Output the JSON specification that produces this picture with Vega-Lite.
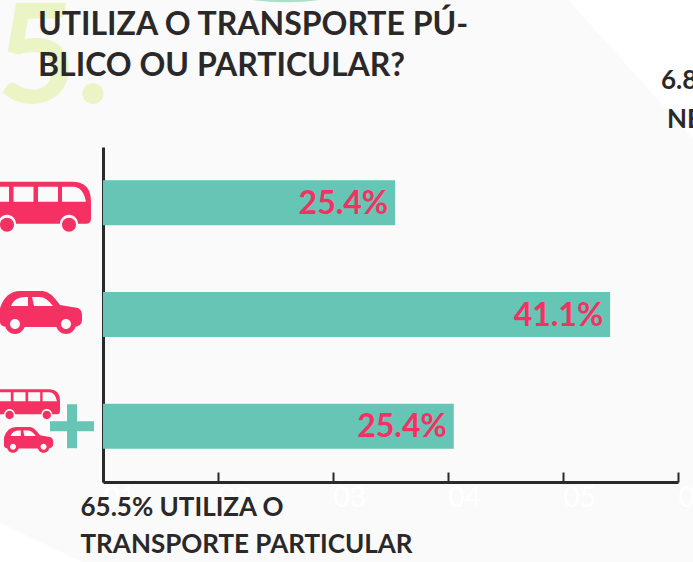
{
"$schema":"https://vega.github.io/schema/vega-lite/v6.json",
"width":575,"height":335,
"autosize":{"type":"none"},
"padding":{"left":103,"top":147,"right":15,"bottom":80},
"background":"#fafafa",
"view":{"stroke":null},
"title":{"text":["UTILIZA O TRANSPORTE PÚ-","BLICO OU PARTICULAR?"],"anchor":"start","frame":"group","dx":-65,"dy":91,"offset":0,"font":"Lato","fontSize":32,"fontWeight":"bold","color":"#2b2829","lineHeight":41,"limit":600},
"data":{"values":[
{"categoria":"Transporte público","valor":25.4,"rotulo":"25.4%"},
{"categoria":"Transporte particular","valor":44.1,"rotulo":"41.1%"},
{"categoria":"Ambos","valor":30.5,"rotulo":"25.4%"}
]},
"encoding":{
"y":{"field":"categoria","type":"nominal","sort":["Transporte público","Transporte particular","Ambos"],
"scale":{"paddingInner":0.6,"paddingOuter":0.3},
"axis":{"labels":false,"ticks":false,"domain":true,"domainColor":"#2b2829","domainWidth":3,"grid":false,
"title":"5.","titleAngle":0,"titleAlign":"left","titleBaseline":"alphabetic","titleX":-107,"titleY":-45,"titleFont":"Lato","titleFontSize":138,"titleFontWeight":"bold","titleColor":"#eaf4c4"}}
},
"layer":[
{"transform":[{"filter":"datum.categoria=='Transporte público'"}],
"mark":{"type":"point","filled":true,"opacity":1,"size":4,"color":"#ffffff","strokeWidth":0,"shape":"M-110 -203 H16 V-63 Z"},
"encoding":{"x":{"datum":50}}},
{"transform":[{"filter":"datum.categoria=='Ambos'"}],
"mark":{"type":"point","filled":true,"opacity":1,"size":4,"color":"#ffffff","strokeWidth":0,"shape":"M-104 96 L-19 137 H-104 Z"},
"encoding":{"x":{"datum":0}}},
{"transform":[{"filter":"datum.categoria=='Transporte público'"}],
"mark":{"type":"point","filled":true,"opacity":1,"size":4,"color":"#a9e0c8","strokeWidth":0,"shape":"M147 -203 Q182 -198 218 -203 Z"},
"encoding":{"x":{"datum":0}}},
{"mark":{"type":"bar","size":45,"color":"#66c5b4"},
"encoding":{"x":{"field":"valor","type":"quantitative","scale":{"domain":[0,50],"nice":false},
"axis":{"values":[0,10,20,30,40,50],"grid":false,"domain":true,"domainColor":"#2b2829","domainWidth":3,"ticks":true,"tickColor":"#2b2829","tickWidth":2,"tickSize":-10,
"labelExpr":"'0' + (datum.value / 10 + 1)","labelAlign":"left","labelBaseline":"top","labelColor":"#ffffff","labelFont":"Lato","labelFontSize":28,"labelPadding":12,"labelBound":false,"labelFlush":false,"labelOverlap":false,
"title":["65.5% UTILIZA O","TRANSPORTE PARTICULAR"],"titleAnchor":"start","titleAlign":"left","titleBaseline":"alphabetic","titleX":-23,"titleY":33,"titleFont":"Lato","titleFontSize":26,"titleFontWeight":"bold","titleColor":"#2b2829","titleLineHeight":37,"titleLimit":600}}}},
{"mark":{"type":"text","align":"right","baseline":"middle","dx":-7,"dy":1,"font":"Lato","fontSize":32,"fontWeight":"bold","color":"#f43162"},
"encoding":{"x":{"field":"valor","type":"quantitative"},"text":{"field":"rotulo"}}},
{"transform":[{"filter":"datum.categoria=='Transporte público'"}],
"mark":{"type":"point","filled":true,"opacity":1,"size":4,"color":"#f43162","strokeWidth":0,"xOffset":-63,"yOffset":4,
"shape":"M-60 -25 H32 Q51 -25 51 -5 V12 Q51 17 46 17 H38 A9 9 0 0 0 20 17 H-24 A9 9 0 0 0 -42 17 H-60 Z M-31 -20 H-60 V-5 H-31 Z M-6.5 -20 H-26.5 V-5 H-6.5 Z M18 -20 H-2 V-5 H18 Z M33 -20 H22 V-5 H46 Q43 -20 33 -20 Z M22 18 A7 7 0 1 1 36 18 A7 7 0 1 1 22 18 Z M-40 18 A7 7 0 1 1 -26 18 A7 7 0 1 1 -40 18 Z"},
"encoding":{"x":{"datum":0}}},
{"transform":[{"filter":"datum.categoria=='Transporte particular'"}],
"mark":{"type":"point","filled":true,"opacity":1,"size":4,"color":"#f43162","strokeWidth":0,"xOffset":-63,"yOffset":-2.5,
"shape":"M-40 10 V-4 Q-34 -21 -20 -21 H3 Q10 -21 20 -7 L38 -4 Q42 -2 42 3 V8 Q42 14 34 15 H33.4 A8 8 0 1 0 18.6 15 H-17.6 A8 8 0 1 0 -32.4 15 H-34 Q-40 14 -40 10 Z M-12 -15 H-14 Q-26 -15 -29 -6 H-12 Z M0 -15 H-8 L-6 -6 H13 Q6 -15 0 -15 Z M16 12 A10 10 0 1 1 36 12 A10 10 0 1 1 16 12 Z M21 12 A5 5 0 1 0 31 12 A5 5 0 1 0 21 12 Z M-35 12 A10 10 0 1 1 -15 12 A10 10 0 1 1 -35 12 Z M-30 12 A5 5 0 1 0 -20 12 A5 5 0 1 0 -30 12 Z"},
"encoding":{"x":{"datum":0}}},
{"transform":[{"filter":"datum.categoria=='Ambos'"}],
"mark":{"type":"point","filled":true,"opacity":1,"size":1.44,"color":"#f43162","strokeWidth":0,"xOffset":-73.6,"yOffset":-22,
"shape":"M-60 -25 H32 Q51 -25 51 -5 V12 Q51 17 46 17 H38 A9 9 0 0 0 20 17 H-24 A9 9 0 0 0 -42 17 H-60 Z M-31 -20 H-60 V-5 H-31 Z M-6.5 -20 H-26.5 V-5 H-6.5 Z M18 -20 H-2 V-5 H18 Z M33 -20 H22 V-5 H46 Q43 -20 33 -20 Z M22 18 A7 7 0 1 1 36 18 A7 7 0 1 1 22 18 Z M-40 18 A7 7 0 1 1 -26 18 A7 7 0 1 1 -40 18 Z"},
"encoding":{"x":{"datum":0}}},
{"transform":[{"filter":"datum.categoria=='Ambos'"}],
"mark":{"type":"point","filled":true,"opacity":1,"size":1.44,"color":"#f43162","strokeWidth":0,"xOffset":-75,"yOffset":13.4,
"shape":"M-40 10 V-4 Q-34 -21 -20 -21 H3 Q10 -21 20 -7 L38 -4 Q42 -2 42 3 V8 Q42 14 34 15 H33.4 A8 8 0 1 0 18.6 15 H-17.6 A8 8 0 1 0 -32.4 15 H-34 Q-40 14 -40 10 Z M-12 -15 H-14 Q-26 -15 -29 -6 H-12 Z M0 -15 H-8 L-6 -6 H13 Q6 -15 0 -15 Z M16 12 A10 10 0 1 1 36 12 A10 10 0 1 1 16 12 Z M21 12 A5 5 0 1 0 31 12 A5 5 0 1 0 21 12 Z M-35 12 A10 10 0 1 1 -15 12 A10 10 0 1 1 -35 12 Z M-30 12 A5 5 0 1 0 -20 12 A5 5 0 1 0 -30 12 Z"},
"encoding":{"x":{"datum":0}}},
{"transform":[{"filter":"datum.categoria=='Ambos'"}],
"mark":{"type":"point","filled":true,"opacity":1,"size":4,"color":"#66c5b4","strokeWidth":0,"xOffset":-31,"yOffset":0,
"shape":"M-5 -22 H5 V-5 H22 V5 H5 V22 H-5 V5 H-22 V-5 H-5 Z"},
"encoding":{"x":{"datum":0}}},
{"transform":[{"filter":"datum.categoria=='Transporte público'"}],
"mark":{"type":"text","text":"6.8% NÃO UTILIZA","align":"left","baseline":"alphabetic","xOffset":-17,"yOffset":-114,"font":"Lato","fontSize":26,"fontWeight":"bold","color":"#2b2829"},
"encoding":{"x":{"datum":50}}},
{"transform":[{"filter":"datum.categoria=='Transporte público'"}],
"mark":{"type":"text","text":"NENHUM","align":"left","baseline":"alphabetic","xOffset":-11,"yOffset":-75,"font":"Lato","fontSize":26,"fontWeight":"bold","color":"#2b2829"},
"encoding":{"x":{"datum":50}}}
]
}
